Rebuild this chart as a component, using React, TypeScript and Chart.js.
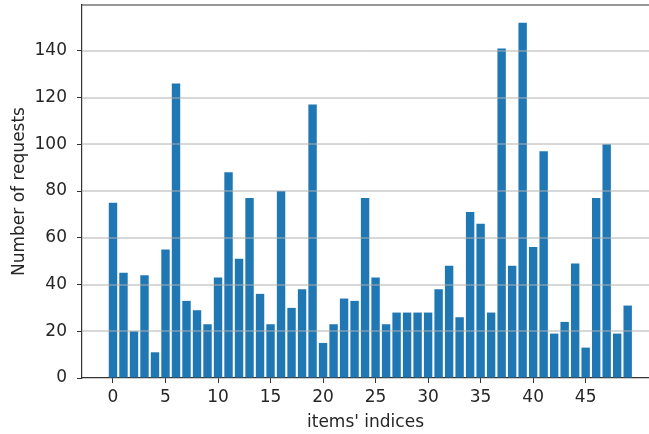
import React, { useEffect, useRef } from "react";
import { Chart, registerables } from "chart.js";

Chart.register(...registerables);

const requests = [
  75, 45, 20, 44, 11, 55, 126, 33, 29, 23,
  43, 88, 51, 77, 36, 23, 80, 30, 38, 117,
  15, 23, 34, 33, 77, 43, 23, 28, 28, 28,
  28, 38, 48, 26, 71, 66, 28, 141, 48, 152,
  56, 97, 19, 24, 49, 13, 77, 100, 19, 31,
];
const itemIndices = requests.map((_, i) => i);
const xTicks = [0, 5, 10, 15, 20, 25, 30, 35, 40, 45];
const yTicks = [0, 20, 40, 60, 80, 100, 120, 140];

const FONT = "'DejaVu Sans', sans-serif";
const TEXT = "#262626";
const AXIS = "#333333";

const overlay = {
  id: "overlay",
  afterDatasetsDraw(chart: any) {
    const { ctx, chartArea, scales } = chart;
    const y = scales.y;
    ctx.save();
    ctx.strokeStyle = "#b0b0b0";
    ctx.lineWidth = 1;
    for (const v of yTicks) {
      if (v === 0) continue;
      const py = Math.round(y.getPixelForValue(v));
      ctx.beginPath();
      ctx.moveTo(chartArea.left, py);
      ctx.lineTo(chartArea.right, py);
      ctx.stroke();
    }
    ctx.strokeStyle = AXIS;
    ctx.lineWidth = 1.2;
    ctx.beginPath();
    ctx.moveTo(chartArea.left, chartArea.top);
    ctx.lineTo(chartArea.right, chartArea.top);
    ctx.stroke();
    ctx.restore();
  },
};

export default function App() {
  const ref = useRef<HTMLCanvasElement | null>(null);
  useEffect(() => {
    if (!ref.current) return;
    const chart = new Chart(ref.current, {
      type: "bar",
      data: {
        datasets: [
          {
            data: itemIndices.map((x, i) => ({ x, y: requests[i] })),
            backgroundColor: "#1f77b4",
            borderWidth: 0,
            barPercentage: 0.8,
            categoryPercentage: 1,
          },
        ],
      },
      options: {
        animation: false,
        responsive: false,
        devicePixelRatio: 1,
        layout: { padding: { top: 5, right: 0, left: 0, bottom: 0 } },
        plugins: { legend: { display: false }, tooltip: { enabled: false } },
        scales: {
          x: {
            type: "linear",
            min: -2.95,
            max: 51.03,
            offset: false,
            afterBuildTicks: (s: any) => {
              s.ticks = xTicks.map((v) => ({ value: v }));
            },
            afterFit: (s: any) => {
              s.height = 56;
              s.paddingLeft = 0;
              s.paddingRight = 0;
            },
            grid: {
              offset: false,
              drawOnChartArea: false,
              drawTicks: true,
              tickLength: 5,
              tickColor: AXIS,
              tickWidth: 1,
            },
            border: { display: true, color: AXIS, width: 1.2 },
            ticks: {
              autoSkip: false,
              maxRotation: 0,
              padding: 4,
              color: TEXT,
              font: { family: FONT, size: 17 },
              callback: (v: any) => String(v),
            },
            title: {
              display: true,
              text: "items' indices",
              color: TEXT,
              font: { family: FONT, size: 17 },
              padding: { top: 0, bottom: 1 },
            },
          },
          y: {
            type: "linear",
            min: 0,
            max: 159.6,
            afterBuildTicks: (s: any) => {
              s.ticks = yTicks.map((v) => ({ value: v }));
            },
            afterFit: (s: any) => {
              s.width = 82;
              s.paddingTop = 0;
              s.paddingBottom = 0;
            },
            grid: {
              drawOnChartArea: false,
              drawTicks: true,
              tickLength: 5,
              tickColor: AXIS,
              tickWidth: 1,
            },
            border: { display: true, color: AXIS, width: 1.2 },
            ticks: {
              padding: 10,
              color: TEXT,
              font: { family: FONT, size: 17 },
              callback: (v: any) => String(v),
            },
            title: {
              display: true,
              text: "Number of requests",
              color: TEXT,
              font: { family: FONT, size: 17 },
              padding: { top: 9, bottom: 0 },
            },
          },
        },
      },
      plugins: [overlay],
    });
    return () => chart.destroy();
  }, []);
  return (
    <div style={{ position: "fixed", left: 0, top: 0, width: 649, height: 434, background: "#fff" }}>
      <canvas ref={ref} width={649} height={434} style={{ display: "block", width: 649, height: 434 }} />
    </div>
  );
}
